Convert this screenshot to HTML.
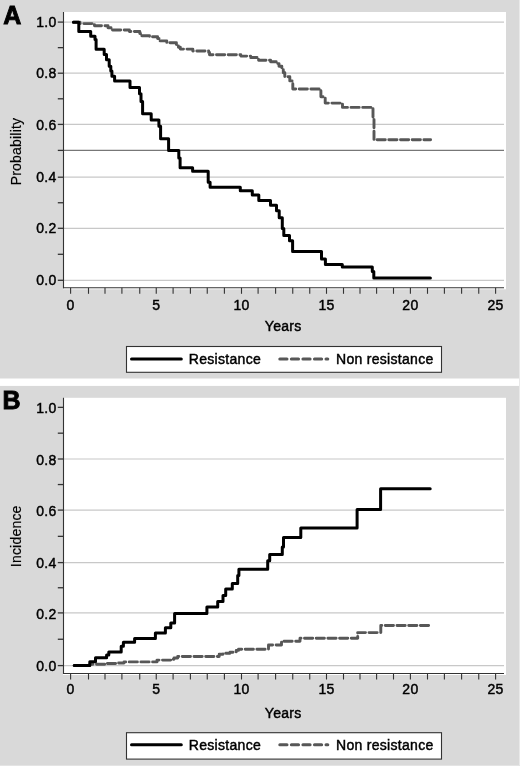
<!DOCTYPE html>
<html><head><meta charset="utf-8"><style>
html,body{margin:0;padding:0;background:#d9d9d9;}
svg{display:block;will-change:transform;}
.t{font-family:"Liberation Sans",sans-serif;font-size:14px;fill:#000;letter-spacing:0.3px;stroke:#000;stroke-width:0.45px;}
.r{font-family:"Liberation Sans",sans-serif;font-size:14px;fill:#000;letter-spacing:0.2px;stroke:#000;stroke-width:0.15px;}
.L{font-family:"Liberation Sans",sans-serif;font-size:25px;font-weight:bold;fill:#000;stroke:#000;stroke-width:0.9px;}
</style></head><body>
<svg width="520" height="766" viewBox="0 0 520 766">
<rect x="0" y="0" width="520" height="766" fill="#d9d9d9"/>
<rect x="0" y="378.5" width="520" height="7.4" fill="#fff"/>
<rect x="519" y="0" width="1" height="766" fill="#e9e9e9"/>
<rect x="0" y="765" width="520" height="1" fill="#e4e4e4"/>
<rect x="63" y="12" width="443" height="277.30" fill="#fff"/>
<line x1="63.5" x2="504" y1="22.10" y2="22.10" stroke="#c8c8c8" stroke-width="1.2"/>
<line x1="63.5" x2="504" y1="73.20" y2="73.20" stroke="#c8c8c8" stroke-width="1.2"/>
<line x1="63.5" x2="504" y1="124.40" y2="124.40" stroke="#c8c8c8" stroke-width="1.2"/>
<line x1="63.5" x2="504" y1="177.20" y2="177.20" stroke="#c8c8c8" stroke-width="1.2"/>
<line x1="63.5" x2="504" y1="228.30" y2="228.30" stroke="#c8c8c8" stroke-width="1.2"/>
<line x1="63.5" x2="504" y1="280.30" y2="280.30" stroke="#c8c8c8" stroke-width="1.2"/>
<line x1="63.5" x2="504" y1="150.40" y2="150.40" stroke="#777777" stroke-width="1.2"/>
<line x1="63.5" x2="63.5" y1="12" y2="288.30" stroke="#333333" stroke-width="1.1"/>
<line x1="63" x2="504" y1="287.80" y2="287.80" stroke="#333333" stroke-width="1.1"/>
<line x1="57.8" x2="63.5" y1="280.30" y2="280.30" stroke="#333333" stroke-width="1.3"/>
<line x1="57.8" x2="63.5" y1="254.30" y2="254.30" stroke="#333333" stroke-width="1.3"/>
<line x1="57.8" x2="63.5" y1="228.30" y2="228.30" stroke="#333333" stroke-width="1.3"/>
<line x1="57.8" x2="63.5" y1="202.75" y2="202.75" stroke="#333333" stroke-width="1.3"/>
<line x1="57.8" x2="63.5" y1="177.20" y2="177.20" stroke="#333333" stroke-width="1.3"/>
<line x1="57.8" x2="63.5" y1="150.40" y2="150.40" stroke="#333333" stroke-width="1.3"/>
<line x1="57.8" x2="63.5" y1="124.40" y2="124.40" stroke="#333333" stroke-width="1.3"/>
<line x1="57.8" x2="63.5" y1="98.80" y2="98.80" stroke="#333333" stroke-width="1.3"/>
<line x1="57.8" x2="63.5" y1="73.20" y2="73.20" stroke="#333333" stroke-width="1.3"/>
<line x1="57.8" x2="63.5" y1="47.65" y2="47.65" stroke="#333333" stroke-width="1.3"/>
<line x1="57.8" x2="63.5" y1="22.10" y2="22.10" stroke="#333333" stroke-width="1.3"/>
<line x1="70.60" x2="70.60" y1="287.80" y2="293.80" stroke="#333333" stroke-width="1.1"/>
<line x1="88.50" x2="88.50" y1="287.80" y2="293.80" stroke="#333333" stroke-width="1.1"/>
<line x1="105.00" x2="105.00" y1="287.80" y2="293.80" stroke="#333333" stroke-width="1.1"/>
<line x1="121.90" x2="121.90" y1="287.80" y2="293.80" stroke="#333333" stroke-width="1.1"/>
<line x1="139.75" x2="139.75" y1="287.80" y2="293.80" stroke="#333333" stroke-width="1.1"/>
<line x1="156.25" x2="156.25" y1="287.80" y2="293.80" stroke="#333333" stroke-width="1.1"/>
<line x1="173.10" x2="173.10" y1="287.80" y2="293.80" stroke="#333333" stroke-width="1.1"/>
<line x1="190.40" x2="190.40" y1="287.80" y2="293.80" stroke="#333333" stroke-width="1.1"/>
<line x1="207.25" x2="207.25" y1="287.80" y2="293.80" stroke="#333333" stroke-width="1.1"/>
<line x1="224.40" x2="224.40" y1="287.80" y2="293.80" stroke="#333333" stroke-width="1.1"/>
<line x1="241.50" x2="241.50" y1="287.80" y2="293.80" stroke="#333333" stroke-width="1.1"/>
<line x1="258.10" x2="258.10" y1="287.80" y2="293.80" stroke="#333333" stroke-width="1.1"/>
<line x1="275.60" x2="275.60" y1="287.80" y2="293.80" stroke="#333333" stroke-width="1.1"/>
<line x1="292.75" x2="292.75" y1="287.80" y2="293.80" stroke="#333333" stroke-width="1.1"/>
<line x1="309.75" x2="309.75" y1="287.80" y2="293.80" stroke="#333333" stroke-width="1.1"/>
<line x1="326.50" x2="326.50" y1="287.80" y2="293.80" stroke="#333333" stroke-width="1.1"/>
<line x1="343.50" x2="343.50" y1="287.80" y2="293.80" stroke="#333333" stroke-width="1.1"/>
<line x1="360.00" x2="360.00" y1="287.80" y2="293.80" stroke="#333333" stroke-width="1.1"/>
<line x1="376.60" x2="376.60" y1="287.80" y2="293.80" stroke="#333333" stroke-width="1.1"/>
<line x1="393.50" x2="393.50" y1="287.80" y2="293.80" stroke="#333333" stroke-width="1.1"/>
<line x1="410.40" x2="410.40" y1="287.80" y2="293.80" stroke="#333333" stroke-width="1.1"/>
<line x1="427.50" x2="427.50" y1="287.80" y2="293.80" stroke="#333333" stroke-width="1.1"/>
<line x1="444.40" x2="444.40" y1="287.80" y2="293.80" stroke="#333333" stroke-width="1.1"/>
<line x1="461.60" x2="461.60" y1="287.80" y2="293.80" stroke="#333333" stroke-width="1.1"/>
<line x1="478.75" x2="478.75" y1="287.80" y2="293.80" stroke="#333333" stroke-width="1.1"/>
<line x1="495.60" x2="495.60" y1="287.80" y2="293.80" stroke="#333333" stroke-width="1.1"/>
<text x="56.6" y="285.40" text-anchor="end" class="t">0.0</text>
<text x="56.6" y="233.40" text-anchor="end" class="t">0.2</text>
<text x="56.6" y="182.30" text-anchor="end" class="t">0.4</text>
<text x="56.6" y="129.50" text-anchor="end" class="t">0.6</text>
<text x="56.6" y="78.30" text-anchor="end" class="t">0.8</text>
<text x="56.6" y="27.20" text-anchor="end" class="t">1.0</text>
<text x="70.60" y="310.00" text-anchor="middle" class="t">0</text>
<text x="156.25" y="310.00" text-anchor="middle" class="t">5</text>
<text x="241.50" y="310.00" text-anchor="middle" class="t">10</text>
<text x="326.50" y="310.00" text-anchor="middle" class="t">15</text>
<text x="410.40" y="310.00" text-anchor="middle" class="t">20</text>
<text x="495.60" y="310.00" text-anchor="middle" class="t">25</text>
<text x="283.2" y="330.80" text-anchor="middle" class="t">Years</text>
<text transform="translate(20.7 151.50) rotate(-90)" text-anchor="middle" class="r">Probability</text>
<text x="3.3" y="24.4" class="L">A</text>
<path d="M73.4 22.3 H80 V23.6 H94.5 V25.8 H108 V27.8 H111 V30 H129.4 V31.5 H139.8 V33.5 H140.5 V35.8 H149.5 V36.8 H157.6 V38.5 H160 V40.9 H166.8 V42.8 H176.4 V44.6 H178.4 V47.2 H180.3 V49.1 H192.8 V51 H208.7 V52.5 H209.5 V54.7 H240.8 V56.1 H250.6 V57.5 H258.6 V60.2 H270.6 V61.7 H276.8 V63.6 H279 V66.3 H281.8 V69.4 H283.3 V72.8 H284.8 V76.8 H289.8 V80.9 H292.8 V89 H320.9 V96.8 H325.2 V103.1 H342.5 V107.4 H373 V118 H374 V139.8 H430.6" fill="none" stroke="#575757" stroke-width="2.9" stroke-dasharray="8.2 3.5" stroke-linecap="round" stroke-linejoin="round"/>
<path d="M73.4 22.3 H78.8 V31.4 H90.7 V36.2 H95 V39.5 H96.1 V49.3 H104.2 V54.4 H106.5 V59.8 H109.2 V66.3 H110.8 V70.9 H111.9 V76.3 H114.6 V80.9 H130 V87.5 H139.5 V93.8 H141 V101.6 H142.6 V113.8 H151.2 V120 H158.9 V126.3 H160.6 V138.7 H168.6 V150.5 H178.8 V158 H180.1 V167.8 H192.6 V171.2 H208.2 V182.2 H210.1 V187.2 H240.3 V190.8 H252.3 V194.9 H258.8 V200.5 H270.5 V205.3 H276.5 V210.8 H279.2 V217.7 H282.3 V228.5 H283.8 V235.4 H289.5 V240.8 H292.6 V251.4 H321.5 V259 H325.4 V264.4 H342.3 V266.9 H372.3 V271.5 H373.8 V277.9 H430.4" fill="none" stroke="#000" stroke-width="3" stroke-linecap="round" stroke-linejoin="round"/>
<rect x="126.5" y="346.50" width="315" height="25.8" fill="#fff" stroke="#333333" stroke-width="1.1"/>
<line x1="131.5" x2="181.3" y1="358.90" y2="358.90" stroke="#000" stroke-width="3" stroke-linecap="round"/>
<text x="188.8" y="364.10" class="t">Resistance</text>
<line x1="279.8" x2="327.8" y1="358.90" y2="358.90" stroke="#575757" stroke-width="3" stroke-dasharray="7.2 4.35" stroke-linecap="round"/>
<text x="336" y="364.10" class="t">Non resistance</text>
<rect x="63" y="397.8" width="443" height="277.20" fill="#fff"/>
<line x1="63.5" x2="504" y1="459.00" y2="459.00" stroke="#c8c8c8" stroke-width="1.2"/>
<line x1="63.5" x2="504" y1="510.10" y2="510.10" stroke="#c8c8c8" stroke-width="1.2"/>
<line x1="63.5" x2="504" y1="562.60" y2="562.60" stroke="#c8c8c8" stroke-width="1.2"/>
<line x1="63.5" x2="504" y1="612.90" y2="612.90" stroke="#c8c8c8" stroke-width="1.2"/>
<line x1="63.5" x2="504" y1="665.60" y2="665.60" stroke="#c8c8c8" stroke-width="1.2"/>
<line x1="63.5" x2="63.5" y1="397.8" y2="674.00" stroke="#333333" stroke-width="1.1"/>
<line x1="63" x2="504" y1="673.50" y2="673.50" stroke="#333333" stroke-width="1.1"/>
<line x1="57.8" x2="63.5" y1="665.60" y2="665.60" stroke="#333333" stroke-width="1.3"/>
<line x1="57.8" x2="63.5" y1="639.25" y2="639.25" stroke="#333333" stroke-width="1.3"/>
<line x1="57.8" x2="63.5" y1="612.90" y2="612.90" stroke="#333333" stroke-width="1.3"/>
<line x1="57.8" x2="63.5" y1="587.75" y2="587.75" stroke="#333333" stroke-width="1.3"/>
<line x1="57.8" x2="63.5" y1="562.60" y2="562.60" stroke="#333333" stroke-width="1.3"/>
<line x1="57.8" x2="63.5" y1="536.35" y2="536.35" stroke="#333333" stroke-width="1.3"/>
<line x1="57.8" x2="63.5" y1="510.10" y2="510.10" stroke="#333333" stroke-width="1.3"/>
<line x1="57.8" x2="63.5" y1="484.55" y2="484.55" stroke="#333333" stroke-width="1.3"/>
<line x1="57.8" x2="63.5" y1="459.00" y2="459.00" stroke="#333333" stroke-width="1.3"/>
<line x1="57.8" x2="63.5" y1="433.18" y2="433.18" stroke="#333333" stroke-width="1.3"/>
<line x1="57.8" x2="63.5" y1="407.35" y2="407.35" stroke="#333333" stroke-width="1.3"/>
<line x1="70.60" x2="70.60" y1="673.50" y2="679.50" stroke="#333333" stroke-width="1.1"/>
<line x1="88.50" x2="88.50" y1="673.50" y2="679.50" stroke="#333333" stroke-width="1.1"/>
<line x1="105.00" x2="105.00" y1="673.50" y2="679.50" stroke="#333333" stroke-width="1.1"/>
<line x1="121.90" x2="121.90" y1="673.50" y2="679.50" stroke="#333333" stroke-width="1.1"/>
<line x1="139.75" x2="139.75" y1="673.50" y2="679.50" stroke="#333333" stroke-width="1.1"/>
<line x1="156.25" x2="156.25" y1="673.50" y2="679.50" stroke="#333333" stroke-width="1.1"/>
<line x1="173.10" x2="173.10" y1="673.50" y2="679.50" stroke="#333333" stroke-width="1.1"/>
<line x1="190.40" x2="190.40" y1="673.50" y2="679.50" stroke="#333333" stroke-width="1.1"/>
<line x1="207.25" x2="207.25" y1="673.50" y2="679.50" stroke="#333333" stroke-width="1.1"/>
<line x1="224.40" x2="224.40" y1="673.50" y2="679.50" stroke="#333333" stroke-width="1.1"/>
<line x1="241.50" x2="241.50" y1="673.50" y2="679.50" stroke="#333333" stroke-width="1.1"/>
<line x1="258.10" x2="258.10" y1="673.50" y2="679.50" stroke="#333333" stroke-width="1.1"/>
<line x1="275.60" x2="275.60" y1="673.50" y2="679.50" stroke="#333333" stroke-width="1.1"/>
<line x1="292.75" x2="292.75" y1="673.50" y2="679.50" stroke="#333333" stroke-width="1.1"/>
<line x1="309.75" x2="309.75" y1="673.50" y2="679.50" stroke="#333333" stroke-width="1.1"/>
<line x1="326.50" x2="326.50" y1="673.50" y2="679.50" stroke="#333333" stroke-width="1.1"/>
<line x1="343.50" x2="343.50" y1="673.50" y2="679.50" stroke="#333333" stroke-width="1.1"/>
<line x1="360.00" x2="360.00" y1="673.50" y2="679.50" stroke="#333333" stroke-width="1.1"/>
<line x1="376.60" x2="376.60" y1="673.50" y2="679.50" stroke="#333333" stroke-width="1.1"/>
<line x1="393.50" x2="393.50" y1="673.50" y2="679.50" stroke="#333333" stroke-width="1.1"/>
<line x1="410.40" x2="410.40" y1="673.50" y2="679.50" stroke="#333333" stroke-width="1.1"/>
<line x1="427.50" x2="427.50" y1="673.50" y2="679.50" stroke="#333333" stroke-width="1.1"/>
<line x1="444.40" x2="444.40" y1="673.50" y2="679.50" stroke="#333333" stroke-width="1.1"/>
<line x1="461.60" x2="461.60" y1="673.50" y2="679.50" stroke="#333333" stroke-width="1.1"/>
<line x1="478.75" x2="478.75" y1="673.50" y2="679.50" stroke="#333333" stroke-width="1.1"/>
<line x1="495.60" x2="495.60" y1="673.50" y2="679.50" stroke="#333333" stroke-width="1.1"/>
<text x="56.6" y="671.40" text-anchor="end" class="t">0.0</text>
<text x="56.6" y="618.70" text-anchor="end" class="t">0.2</text>
<text x="56.6" y="568.40" text-anchor="end" class="t">0.4</text>
<text x="56.6" y="515.90" text-anchor="end" class="t">0.6</text>
<text x="56.6" y="464.80" text-anchor="end" class="t">0.8</text>
<text x="56.6" y="413.15" text-anchor="end" class="t">1.0</text>
<text x="70.60" y="694.10" text-anchor="middle" class="t">0</text>
<text x="156.25" y="694.10" text-anchor="middle" class="t">5</text>
<text x="241.50" y="694.10" text-anchor="middle" class="t">10</text>
<text x="326.50" y="694.10" text-anchor="middle" class="t">15</text>
<text x="410.40" y="694.10" text-anchor="middle" class="t">20</text>
<text x="495.60" y="694.10" text-anchor="middle" class="t">25</text>
<text x="283.2" y="718.30" text-anchor="middle" class="t">Years</text>
<text transform="translate(20.7 536.30) rotate(-90)" text-anchor="middle" class="r">Incidence</text>
<text x="2.4" y="408.7" class="L">B</text>
<path d="M74.2 665.4 H90 V664.3 H106 V663.5 H116 V663 H124 V661.9 H157 V660.1 H171 V659.2 H174 V658 H177.7 V656.5 H219.2 V654.2 H223 V653.2 H230 V652.2 H236.2 V650.4 H238.5 V649.2 H268.5 V645 H281.5 V641.2 H300 V638.3 H357.7 V632.6 H380.8 V625.5 H431.2" fill="none" stroke="#575757" stroke-width="2.9" stroke-dasharray="8.2 3.5" stroke-linecap="round" stroke-linejoin="round"/>
<path d="M74.2 665.6 H89.8 V661.7 H95.5 V657.7 H106.6 V655 H108.8 V651.9 H121.2 V646.2 H123.4 V642.2 H134.6 V638.5 H155.4 V633 H165.4 V627.7 H170.8 V623 H174.6 V613.5 H206.9 V606.9 H217.7 V601.5 H223 V595.4 H225.7 V589 H232.3 V583.4 H237.7 V575.4 H238.9 V569.2 H267.7 V560.8 H269.7 V554.6 H282.3 V547 H283.5 V537.4 H300.8 V528 H357.1 V509.6 H380.6 V488.8 H430.2" fill="none" stroke="#000" stroke-width="3" stroke-linecap="round" stroke-linejoin="round"/>
<rect x="126.5" y="732.70" width="315" height="26.4" fill="#fff" stroke="#333333" stroke-width="1.1"/>
<line x1="131.5" x2="181.3" y1="744.80" y2="744.80" stroke="#000" stroke-width="3" stroke-linecap="round"/>
<text x="188.8" y="750.00" class="t">Resistance</text>
<line x1="279.8" x2="327.8" y1="744.80" y2="744.80" stroke="#575757" stroke-width="3" stroke-dasharray="7.2 4.35" stroke-linecap="round"/>
<text x="336" y="750.00" class="t">Non resistance</text>
</svg>
</body></html>
